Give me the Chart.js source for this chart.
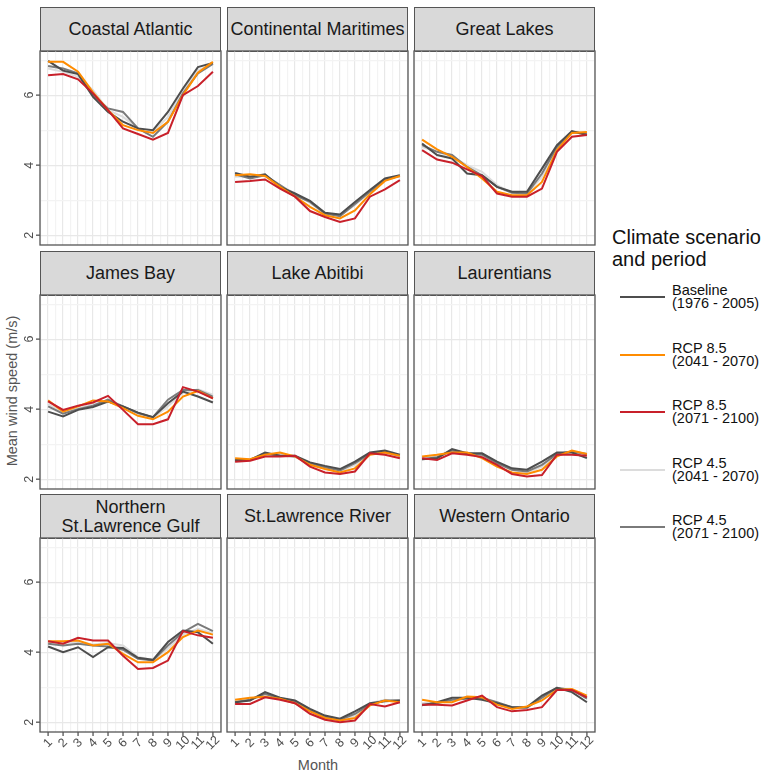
<!DOCTYPE html>
<html>
<head>
<meta charset="utf-8">
<script src="https://cdn.jsdelivr.net/npm/chart.js@4.4.1/dist/chart.umd.min.js"></script>
<style>
  body { margin: 0; background: #fff; font-family: "Liberation Sans", Arial, sans-serif; }
  #wrap { position: relative; width: 765px; height: 773px; overflow: hidden; background: #fff; }
  .strip { position: absolute; box-sizing: border-box; background: #d9d9d9; border: 1.3px solid #555;
           display: flex; align-items: center; justify-content: center; text-align: center;
           font-size: 18px; line-height: 19px; color: #1a1a1a; }
  canvas { position: absolute; }
  .ttl { position: absolute; color: #555; font-size: 14.5px; white-space: nowrap; }
  .lg-title { position: absolute; left: 612px; top: 226px; font-size: 20px; line-height: 22px; color: #111; }
  .lg-key { position: absolute; left: 620px; width: 45px; height: 2px; }
  .lg-lab { position: absolute; left: 672px; font-size: 14.5px; line-height: 13px; color: #111; white-space: nowrap; }
</style>
</head>
<body>
<div id="wrap">
  <div class="ttl" style="left:318px;top:757px;transform:translateX(-50%);">Month</div>
  <div class="ttl" style="left:12px;top:391px;transform:translate(-50%,-50%) rotate(-90deg);">Mean wind speed (m/s)</div>
  <div class="lg-title">Climate scenario<br>and period</div>
</div>
<script>
// facet regions, in panel order (row by row)
const regions = ["Coastal Atlantic", "Continental Maritimes", "Great Lakes",
                 "James Bay", "Lake Abitibi", "Laurentians",
                 "Northern\nSt.Lawrence Gulf", "St.Lawrence River", "Western Ontario"];
const months = [1, 2, 3, 4, 5, 6, 7, 8, 9, 10, 11, 12];
const yTicks = [2, 4, 6];

const scenarioNames = ["Baseline\n(1976 - 2005)", "RCP 8.5\n(2041 - 2070)", "RCP 8.5\n(2071 - 2100)",
                       "RCP 4.5\n(2041 - 2070)", "RCP 4.5\n(2071 - 2100)"];

// mean wind speed (m/s), one row per region
const baseline = [
  [6.98, 6.70, 6.60, 5.95, 5.52, 5.24, 5.05, 5.00, 5.52, 6.19, 6.80, 6.92],
  [3.78, 3.67, 3.74, 3.38, 3.19, 2.98, 2.64, 2.59, 2.95, 3.29, 3.62, 3.71],
  [4.62, 4.29, 4.19, 3.76, 3.71, 3.38, 3.24, 3.24, 3.90, 4.57, 4.97, 4.86],
  [3.93, 3.79, 3.98, 4.06, 4.22, 4.08, 3.90, 3.77, 4.17, 4.50, 4.36, 4.19],
  [2.55, 2.55, 2.76, 2.67, 2.67, 2.48, 2.38, 2.29, 2.50, 2.76, 2.82, 2.70],
  [2.57, 2.60, 2.86, 2.74, 2.74, 2.50, 2.31, 2.27, 2.50, 2.76, 2.76, 2.60],
  [4.16, 4.00, 4.14, 3.86, 4.14, 4.12, 3.84, 3.78, 4.29, 4.62, 4.57, 4.24],
  [2.57, 2.62, 2.86, 2.70, 2.62, 2.38, 2.19, 2.10, 2.31, 2.54, 2.60, 2.62],
  [2.48, 2.57, 2.70, 2.70, 2.64, 2.54, 2.43, 2.43, 2.76, 2.98, 2.86, 2.57]
];
const rcp85_2041 = [
  [6.95, 6.95, 6.67, 6.08, 5.57, 5.14, 5.00, 4.92, 5.24, 6.00, 6.64, 6.95],
  [3.71, 3.74, 3.69, 3.38, 3.10, 2.81, 2.57, 2.48, 2.71, 3.17, 3.55, 3.69],
  [4.73, 4.45, 4.24, 3.95, 3.62, 3.24, 3.14, 3.14, 3.52, 4.43, 4.92, 4.95],
  [4.25, 3.93, 4.08, 4.25, 4.22, 4.03, 3.81, 3.71, 3.93, 4.36, 4.52, 4.31],
  [2.60, 2.57, 2.70, 2.76, 2.65, 2.41, 2.29, 2.19, 2.31, 2.70, 2.76, 2.67],
  [2.65, 2.70, 2.76, 2.76, 2.60, 2.36, 2.19, 2.15, 2.27, 2.65, 2.82, 2.72],
  [4.31, 4.31, 4.33, 4.19, 4.24, 3.95, 3.71, 3.71, 4.00, 4.43, 4.62, 4.50],
  [2.64, 2.70, 2.73, 2.67, 2.54, 2.31, 2.12, 2.05, 2.12, 2.48, 2.62, 2.57],
  [2.64, 2.57, 2.57, 2.73, 2.71, 2.50, 2.38, 2.45, 2.62, 2.92, 2.95, 2.76]
];
const rcp85_2071 = [
  [6.57, 6.60, 6.45, 6.05, 5.57, 5.05, 4.89, 4.73, 4.92, 6.00, 6.26, 6.67],
  [3.52, 3.55, 3.59, 3.33, 3.10, 2.69, 2.52, 2.38, 2.48, 3.10, 3.31, 3.57],
  [4.43, 4.16, 4.07, 3.88, 3.69, 3.19, 3.10, 3.10, 3.33, 4.38, 4.81, 4.86],
  [4.22, 3.98, 4.10, 4.19, 4.38, 3.98, 3.57, 3.57, 3.71, 4.63, 4.50, 4.31],
  [2.50, 2.53, 2.65, 2.65, 2.67, 2.36, 2.19, 2.15, 2.22, 2.74, 2.70, 2.60],
  [2.60, 2.55, 2.74, 2.70, 2.63, 2.41, 2.15, 2.08, 2.12, 2.70, 2.70, 2.67],
  [4.31, 4.24, 4.41, 4.33, 4.33, 3.90, 3.52, 3.55, 3.76, 4.60, 4.48, 4.41],
  [2.52, 2.52, 2.71, 2.64, 2.54, 2.24, 2.07, 2.00, 2.05, 2.52, 2.45, 2.57],
  [2.50, 2.50, 2.48, 2.62, 2.76, 2.43, 2.31, 2.35, 2.43, 2.92, 2.92, 2.71]
];
const rcp45_2041 = [
  [6.76, 6.67, 6.52, 6.14, 5.57, 5.38, 5.05, 4.95, 5.38, 6.14, 6.70, 6.90],
  [3.67, 3.69, 3.69, 3.43, 3.19, 2.92, 2.62, 2.57, 2.86, 3.24, 3.57, 3.71],
  [4.52, 4.38, 4.24, 4.00, 3.81, 3.43, 3.21, 3.17, 3.67, 4.48, 4.92, 4.95],
  [4.15, 3.90, 4.03, 4.15, 4.22, 4.06, 3.87, 3.74, 4.08, 4.46, 4.57, 4.41],
  [2.57, 2.57, 2.72, 2.72, 2.63, 2.44, 2.32, 2.22, 2.41, 2.72, 2.76, 2.65],
  [2.63, 2.67, 2.79, 2.76, 2.65, 2.44, 2.27, 2.19, 2.36, 2.67, 2.79, 2.70],
  [4.29, 4.26, 4.29, 4.22, 4.26, 4.19, 3.86, 3.78, 4.10, 4.50, 4.67, 4.54],
  [2.60, 2.67, 2.76, 2.67, 2.57, 2.33, 2.14, 2.07, 2.19, 2.54, 2.64, 2.60],
  [2.54, 2.57, 2.62, 2.70, 2.67, 2.54, 2.41, 2.43, 2.67, 2.95, 2.92, 2.71]
];
const rcp45_2071 = [
  [6.83, 6.76, 6.62, 6.00, 5.62, 5.52, 5.05, 4.81, 5.24, 6.05, 6.62, 6.89],
  [3.74, 3.62, 3.71, 3.43, 3.14, 2.95, 2.62, 2.54, 2.89, 3.24, 3.59, 3.69],
  [4.57, 4.38, 4.29, 3.95, 3.71, 3.38, 3.21, 3.19, 3.76, 4.52, 4.95, 4.90],
  [4.08, 3.87, 4.00, 4.10, 4.27, 4.08, 3.89, 3.77, 4.27, 4.55, 4.55, 4.36],
  [2.53, 2.55, 2.72, 2.67, 2.65, 2.46, 2.34, 2.25, 2.46, 2.72, 2.79, 2.67],
  [2.57, 2.63, 2.82, 2.72, 2.70, 2.46, 2.27, 2.22, 2.41, 2.72, 2.79, 2.72],
  [4.24, 4.19, 4.24, 4.19, 4.16, 4.07, 3.81, 3.76, 4.19, 4.57, 4.81, 4.60],
  [2.57, 2.64, 2.81, 2.67, 2.60, 2.35, 2.16, 2.07, 2.24, 2.50, 2.62, 2.62],
  [2.50, 2.54, 2.64, 2.67, 2.70, 2.57, 2.43, 2.41, 2.70, 2.98, 2.92, 2.67]
];
const series = [baseline, rcp85_2041, rcp85_2071, rcp45_2041, rcp45_2071];

// styling
const colors = ["#4d4d4d", "#ff8c00", "#c8202a", "#dcdcdc", "#7a7a7a"];
const drawOrder = [2, 1, 0, 4, 3]; // lower = drawn on top
const colX = [40, 227, 414];
const rowTop = [7, 250.5, 494];
const stripH = 44, panelW = 181, panelH = 194;
const FONT = '"Liberation Sans", Arial, sans-serif';

const wrap = document.getElementById('wrap');

// legend
const keyY = [297, 354.5, 412, 469.5, 527];
scenarioNames.forEach((name, i) => {
  const k = document.createElement('div');
  k.className = 'lg-key';
  k.style.top = (keyY[i] - 1) + 'px';
  k.style.background = colors[i];
  wrap.appendChild(k);
  const l = document.createElement('div');
  l.className = 'lg-lab';
  l.style.top = (keyY[i] - 13) + 'px';
  l.innerHTML = name.replace('\n', '<br>');
  wrap.appendChild(l);
});

const facetDecor = {
  id: 'facetDecor',
  afterDraw(chart, args, opts) {
    const { ctx, chartArea: a } = chart;
    const x = chart.scales.x, y = chart.scales.y;
    ctx.save();
    ctx.strokeStyle = '#555';
    ctx.lineWidth = 1.3;
    ctx.strokeRect(a.left, a.top, a.right - a.left, a.bottom - a.top);
    ctx.fillStyle = '#4d4d4d';
    ctx.font = '12.5px ' + FONT;
    ctx.textAlign = 'center';
    ctx.textBaseline = 'middle';
    if (opts.showY) {
      yTicks.forEach(v => {
        const py = y.getPixelForValue(v);
        ctx.beginPath(); ctx.moveTo(a.left - 4, py); ctx.lineTo(a.left, py); ctx.stroke();
        ctx.save();
        ctx.translate(a.left - 10, py);
        ctx.rotate(-Math.PI / 2);
        ctx.fillText(String(v), 0, 0);
        ctx.restore();
      });
    }
    if (opts.showX) {
      months.forEach(m => {
        const px = x.getPixelForValue(m);
        ctx.beginPath(); ctx.moveTo(px, a.bottom); ctx.lineTo(px, a.bottom + 4); ctx.stroke();
        ctx.save();
        ctx.translate(px, a.bottom + 11);
        ctx.rotate(-Math.PI / 4);
        ctx.fillText(String(m), 0, 0);
        ctx.restore();
      });
    }
    ctx.restore();
  }
};

const xGrid = [];
for (let v = 0.5; v <= 12.5; v += 0.5) xGrid.push(v);
const yGrid = [2, 3, 4, 5, 6, 7];

regions.forEach((region, p) => {
  const r = Math.floor(p / 3), c = p % 3;
  const panelL = colX[c], panelT = rowTop[r] + stripH;

  const s = document.createElement('div');
  s.className = 'strip';
  s.style.left = panelL + 'px';
  s.style.top = rowTop[r] + 'px';
  s.style.width = panelW + 'px';
  s.style.height = (stripH + 1) + 'px';
  s.innerHTML = region.replace('\n', '<br>');
  wrap.appendChild(s);

  const showY = c === 0, showX = r === 2;
  const yW = showY ? 38 : 0, xH = showX ? 36 : 0;
  const cv = document.createElement('canvas');
  cv.width = panelW + 4 + yW;
  cv.height = panelH + 4 + xH;
  cv.style.left = (panelL - 2 - yW) + 'px';
  cv.style.top = (panelT - 2) + 'px';
  wrap.appendChild(cv);

  new Chart(cv, {
    type: 'line',
    data: {
      datasets: series.map((arr, i) => ({
        label: scenarioNames[i],
        data: months.map((m, j) => ({ x: m, y: arr[p][j] })),
        borderColor: colors[i],
        borderWidth: 2,
        pointRadius: 0,
        tension: 0,
        order: drawOrder[i]
      }))
    },
    options: {
      responsive: false,
      animation: false,
      devicePixelRatio: 1,
      layout: { padding: 2 },
      plugins: { legend: { display: false }, tooltip: { enabled: false }, facetDecor: { showX, showY } },
      scales: {
        x: {
          type: 'linear', min: 0.46, max: 12.54,
          afterBuildTicks: sc => { sc.ticks = xGrid.map(v => ({ value: v })); },
          afterFit: sc => { sc.height = xH; },
          ticks: { display: false },
          border: { display: false },
          grid: { drawTicks: false, color: ctx => (ctx.tick && ctx.tick.value % 1 === 0) ? '#e8e8e8' : '#f3f3f3', lineWidth: 1.2 }
        },
        y: {
          type: 'linear', min: 1.72, max: 7.26,
          afterBuildTicks: sc => { sc.ticks = yGrid.map(v => ({ value: v })); },
          afterFit: sc => { sc.width = yW; },
          ticks: { display: false },
          border: { display: false },
          grid: { drawTicks: false, color: ctx => (ctx.tick && ctx.tick.value % 2 === 0) ? '#e8e8e8' : '#f3f3f3', lineWidth: 1.2 }
        }
      }
    },
    plugins: [facetDecor]
  });
});
</script>
</body>
</html>
